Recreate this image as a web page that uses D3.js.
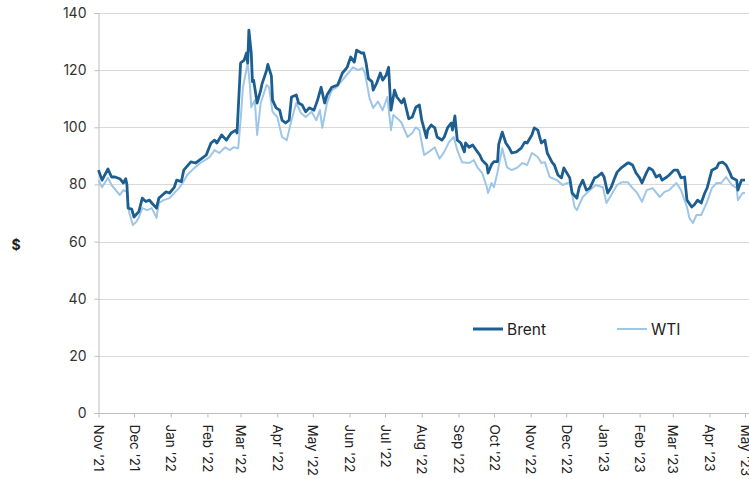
<!DOCTYPE html>
<html>
<head>
<meta charset="utf-8">
<script src="https://cdn.jsdelivr.net/npm/d3@7"></script>
<style>
  html, body { margin: 0; padding: 0; background: #fff; }
  svg { display: block; font-family: Inter, "Open Sans", sans-serif; }
</style>
</head>
<body>
<svg id="chart" width="749" height="479"></svg>
<script>
const yTicks = [0, 20, 40, 60, 80, 100, 120, 140];
const seriesNames = ["Brent", "WTI"];
const seriesColors = ["#1d5e91", "#9ec6e6"];

const brentDates = ["2021-11-01","2021-11-04","2021-11-09","2021-11-12","2021-11-15","2021-11-19","2021-11-22","2021-11-24","2021-11-25","2021-11-26","2021-11-29","2021-12-01","2021-12-04","2021-12-05","2021-12-08","2021-12-11","2021-12-14","2021-12-16","2021-12-20","2021-12-22","2021-12-25","2021-12-28","2021-12-31","2022-01-04","2022-01-06","2022-01-10","2022-01-12","2022-01-18","2022-01-22","2022-01-27","2022-01-31","2022-02-04","2022-02-07","2022-02-09","2022-02-13","2022-02-17","2022-02-21","2022-02-25","2022-02-26","2022-03-01","2022-03-04","2022-03-06","2022-03-07","2022-03-08","2022-03-10","2022-03-11","2022-03-12","2022-03-15","2022-03-18","2022-03-19","2022-03-23","2022-03-24","2022-03-27","2022-03-28","2022-03-31","2022-04-03","2022-04-05","2022-04-08","2022-04-11","2022-04-13","2022-04-17","2022-04-19","2022-04-22","2022-04-25","2022-04-28","2022-05-02","2022-05-05","2022-05-08","2022-05-11","2022-05-13","2022-05-17","2022-05-22","2022-05-26","2022-05-30","2022-06-02","2022-06-05","2022-06-07","2022-06-11","2022-06-13","2022-06-15","2022-06-17","2022-06-20","2022-06-21","2022-06-24","2022-06-27","2022-06-29","2022-07-02","2022-07-04","2022-07-06","2022-07-09","2022-07-11","2022-07-15","2022-07-17","2022-07-21","2022-07-24","2022-07-27","2022-07-30","2022-08-01","2022-08-05","2022-08-06","2022-08-09","2022-08-12","2022-08-14","2022-08-18","2022-08-20","2022-08-23","2022-08-26","2022-08-27","2022-08-29","2022-08-31","2022-09-03","2022-09-06","2022-09-07","2022-09-10","2022-09-13","2022-09-16","2022-09-19","2022-09-21","2022-09-25","2022-09-26","2022-09-29","2022-10-01","2022-10-04","2022-10-05","2022-10-08","2022-10-11","2022-10-14","2022-10-16","2022-10-20","2022-10-24","2022-10-27","2022-10-29","2022-11-02","2022-11-04","2022-11-07","2022-11-10","2022-11-13","2022-11-15","2022-11-19","2022-11-21","2022-11-24","2022-11-27","2022-11-29","2022-12-04","2022-12-06","2022-12-10","2022-12-12","2022-12-15","2022-12-18","2022-12-21","2022-12-25","2022-12-27","2022-12-31","2023-01-02","2023-01-05","2023-01-08","2023-01-11","2023-01-13","2023-01-17","2023-01-22","2023-01-23","2023-01-26","2023-01-29","2023-02-01","2023-02-03","2023-02-07","2023-02-09","2023-02-12","2023-02-15","2023-02-18","2023-02-20","2023-02-24","2023-02-26","2023-03-02","2023-03-05","2023-03-08","2023-03-11","2023-03-13","2023-03-17","2023-03-19","2023-03-22","2023-03-25","2023-03-28","2023-03-30","2023-04-03","2023-04-07","2023-04-09","2023-04-12","2023-04-15","2023-04-18","2023-04-20","2023-04-24","2023-04-25","2023-04-28","2023-05-01"];
const brentValues = [85,81.5,85.4,82.6,82.6,82,80.5,82,80,71.7,71.4,68.6,70,70.4,75.2,74,74.5,73.5,71.7,75.2,76.3,77.4,77,79,81.5,81,85,87.9,87.5,89,90.3,94.5,95.5,94.5,97.3,95.5,98,99,98,122.5,123.5,126,122.5,134,126,116,116.5,108.5,113,115,120,122,118,109.5,106.8,106,102.5,101.5,102.5,110.6,111.3,108.5,107.8,105.4,106.8,106,109.5,114,108.5,111.3,114,114.8,119,121,124.6,122.8,127,126,126,122.5,117,116,113,115.5,119,116.5,118.3,121,106,113,110.6,108.5,110,103,103.6,107,107.8,102.5,96.3,99,100.8,99.8,96.6,95.5,96.6,100,101.5,99,104,95.5,94.5,91.4,94.5,93,93.8,92,90.3,88.5,86.8,84,87,88,88,94,98.3,94.5,92.7,91,91.4,92.7,94.8,94.5,97.3,99.8,99,94.5,95.5,91,87.8,86.8,83.3,82.3,85.8,82.3,77,75.2,79,81.5,78,78.7,82.3,82.6,84,82.6,77,79,82.3,84.3,86,87.5,87.5,86.8,84,82.3,80.5,84.3,85.8,85,82.6,83.3,81.5,82.6,83.3,85,85,82.3,82.6,74.5,72.1,72.8,74.5,73.5,77,78.7,85,85.8,87.5,87.8,86.8,84.3,82.3,81.5,78,81.5,81.5];

const wtiDates = ["2021-11-01","2021-11-04","2021-11-09","2021-11-12","2021-11-19","2021-11-22","2021-11-25","2021-11-27","2021-11-30","2021-12-03","2021-12-05","2021-12-08","2021-12-12","2021-12-16","2021-12-20","2021-12-22","2021-12-26","2021-12-31","2022-01-04","2022-01-08","2022-01-11","2022-01-15","2022-01-21","2022-01-26","2022-01-30","2022-02-03","2022-02-07","2022-02-11","2022-02-16","2022-02-20","2022-02-23","2022-02-27","2022-03-01","2022-03-03","2022-03-07","2022-03-09","2022-03-10","2022-03-13","2022-03-15","2022-03-18","2022-03-23","2022-03-25","2022-03-28","2022-04-01","2022-04-05","2022-04-09","2022-04-13","2022-04-17","2022-04-21","2022-04-25","2022-04-30","2022-05-04","2022-05-07","2022-05-09","2022-05-13","2022-05-17","2022-05-21","2022-05-27","2022-05-31","2022-06-04","2022-06-08","2022-06-12","2022-06-14","2022-06-18","2022-06-21","2022-06-25","2022-06-29","2022-07-03","2022-07-06","2022-07-08","2022-07-13","2022-07-15","2022-07-20","2022-07-24","2022-07-27","2022-07-30","2022-08-03","2022-08-07","2022-08-12","2022-08-16","2022-08-20","2022-08-24","2022-08-28","2022-08-31","2022-09-04","2022-09-10","2022-09-14","2022-09-17","2022-09-21","2022-09-25","2022-09-26","2022-09-29","2022-10-01","2022-10-04","2022-10-08","2022-10-12","2022-10-16","2022-10-21","2022-10-25","2022-10-29","2022-11-02","2022-11-07","2022-11-10","2022-11-13","2022-11-17","2022-11-23","2022-11-28","2022-12-04","2022-12-08","2022-12-10","2022-12-15","2022-12-21","2022-12-26","2023-01-01","2023-01-04","2023-01-08","2023-01-13","2023-01-17","2023-01-22","2023-01-26","2023-01-30","2023-02-03","2023-02-07","2023-02-12","2023-02-18","2023-02-22","2023-02-26","2023-03-04","2023-03-08","2023-03-13","2023-03-15","2023-03-18","2023-03-21","2023-03-25","2023-03-30","2023-04-03","2023-04-07","2023-04-11","2023-04-15","2023-04-20","2023-04-24","2023-04-25","2023-04-29","2023-05-01"];
const wtiValues = [81.5,79,82.3,79.8,76.3,78,77.4,70,65.8,66.9,68.3,71.7,71,71.7,68.3,73.5,74.5,75.2,77,78.7,80.5,83.3,85.8,87.5,88.5,89.6,92,91,93,92,93,92.7,102.5,114,122.5,114,107,109.5,97.3,108.5,114.8,114,105.4,103.6,96.6,95.5,102.5,108.5,105,103.6,105.4,102.5,106,99.8,108.5,113,114,117,119,121,120,120.7,119,110,106.8,109,106,110.6,99,104.3,102.5,101.5,96.6,98,100,99,90.3,91.4,93,89,91.4,94.8,96.6,92,87.8,87.5,88.5,86,84,79,77,80.5,79,84.3,92.7,86,85,86,87.5,86.8,91,89.6,87.5,87.8,82.6,81.5,79.8,80.8,72.1,71,75.6,78,79.8,79,73.5,76.3,79.8,80.8,80.8,78.7,77,73.9,78,78.7,75.6,77.4,78,80.5,78,72.1,68.3,66.5,69.3,69.3,73.9,78.7,80.5,80.5,82.6,79.8,78.7,74.5,77,77];

const parseDate = d3.utcParse("%Y-%m-%d");
const brent = brentDates.map((d, i) => ({ date: parseDate(d), value: brentValues[i] })).filter(d => d.value != null);
const wti = wtiDates.map((d, i) => ({ date: parseDate(d), value: wtiValues[i] })).filter(d => d.value != null);

const svg = d3.select("#chart");
const mLeft = 98.5, mRight = 745, mTop = 13, mBottom = 413;

const x = d3.scaleUtc()
  .domain([parseDate("2021-11-01"), parseDate("2023-05-01")])
  .range([mLeft, mRight]);
const y = d3.scaleLinear().domain([0, 140]).range([mBottom, mTop]);

// gridlines
svg.append("g")
  .selectAll("line")
  .data(yTicks.filter(t => t > 0))
  .join("line")
  .attr("x1", mLeft).attr("x2", 749)
  .attr("y1", d => Math.round(y(d)) + 0.5).attr("y2", d => Math.round(y(d)) + 0.5)
  .attr("stroke", "#d9d9d9").attr("stroke-width", 1);

// y axis
const yAxis = svg.append("g")
  .attr("transform", `translate(${mLeft},0)`)
  .call(d3.axisLeft(y).tickValues(yTicks).tickSize(4).tickPadding(8));
yAxis.select(".domain").attr("stroke", "#bdbdbd");
yAxis.selectAll(".tick line").attr("stroke", "#bdbdbd");
yAxis.selectAll(".tick text")
  .attr("font-size", 14).attr("fill", "#333")
  .attr("font-family", "Inter, 'Open Sans', sans-serif");

// x axis
const xAxis = svg.append("g")
  .attr("transform", `translate(0,${mBottom + 0.5})`)
  .call(d3.axisBottom(x)
    .ticks(d3.utcMonth.every(1))
    .tickFormat(d3.utcFormat("%b '%y"))
    .tickSize(4));
xAxis.select(".domain").attr("stroke", "#bdbdbd").attr("d", `M${mLeft},0H749`);
xAxis.selectAll(".tick line").attr("stroke", "#bdbdbd");
xAxis.selectAll(".tick text")
  .attr("font-size", 13.5).attr("fill", "#222")
  .attr("font-family", "Inter, 'Open Sans', sans-serif")
  .attr("text-anchor", "start")
  .attr("transform", "rotate(90)")
  .attr("x", 11).attr("y", 0).attr("dy", "0.36em");

// $ label
svg.append("text")
  .attr("x", 16).attr("y", 250)
  .attr("text-anchor", "middle")
  .attr("font-size", 14).attr("font-weight", 700).attr("fill", "#222")
  .text("$");

// lines
const line = d3.line().x(d => x(d.date)).y(d => y(d.value)).curve(d3.curveLinear);
svg.append("path").datum(wti)
  .attr("fill", "none").attr("stroke", seriesColors[1]).attr("stroke-width", 2)
  .attr("stroke-linejoin", "round").attr("d", line);
svg.append("path").datum(brent)
  .attr("fill", "none").attr("stroke", seriesColors[0]).attr("stroke-width", 2.8)
  .attr("stroke-linejoin", "round").attr("d", line);

// legend
const legendX = [473, 617];
const legend = svg.append("g");
seriesNames.forEach((name, i) => {
  legend.append("line")
    .attr("x1", legendX[i]).attr("x2", legendX[i] + 30)
    .attr("y1", 329).attr("y2", 329)
    .attr("stroke", seriesColors[i]).attr("stroke-width", i === 0 ? 3 : 2);
  legend.append("text")
    .attr("x", legendX[i] + 34).attr("y", 334.5)
    .attr("font-size", 15.5).attr("fill", "#222")
    .text(name);
});
</script>
</body>
</html>
